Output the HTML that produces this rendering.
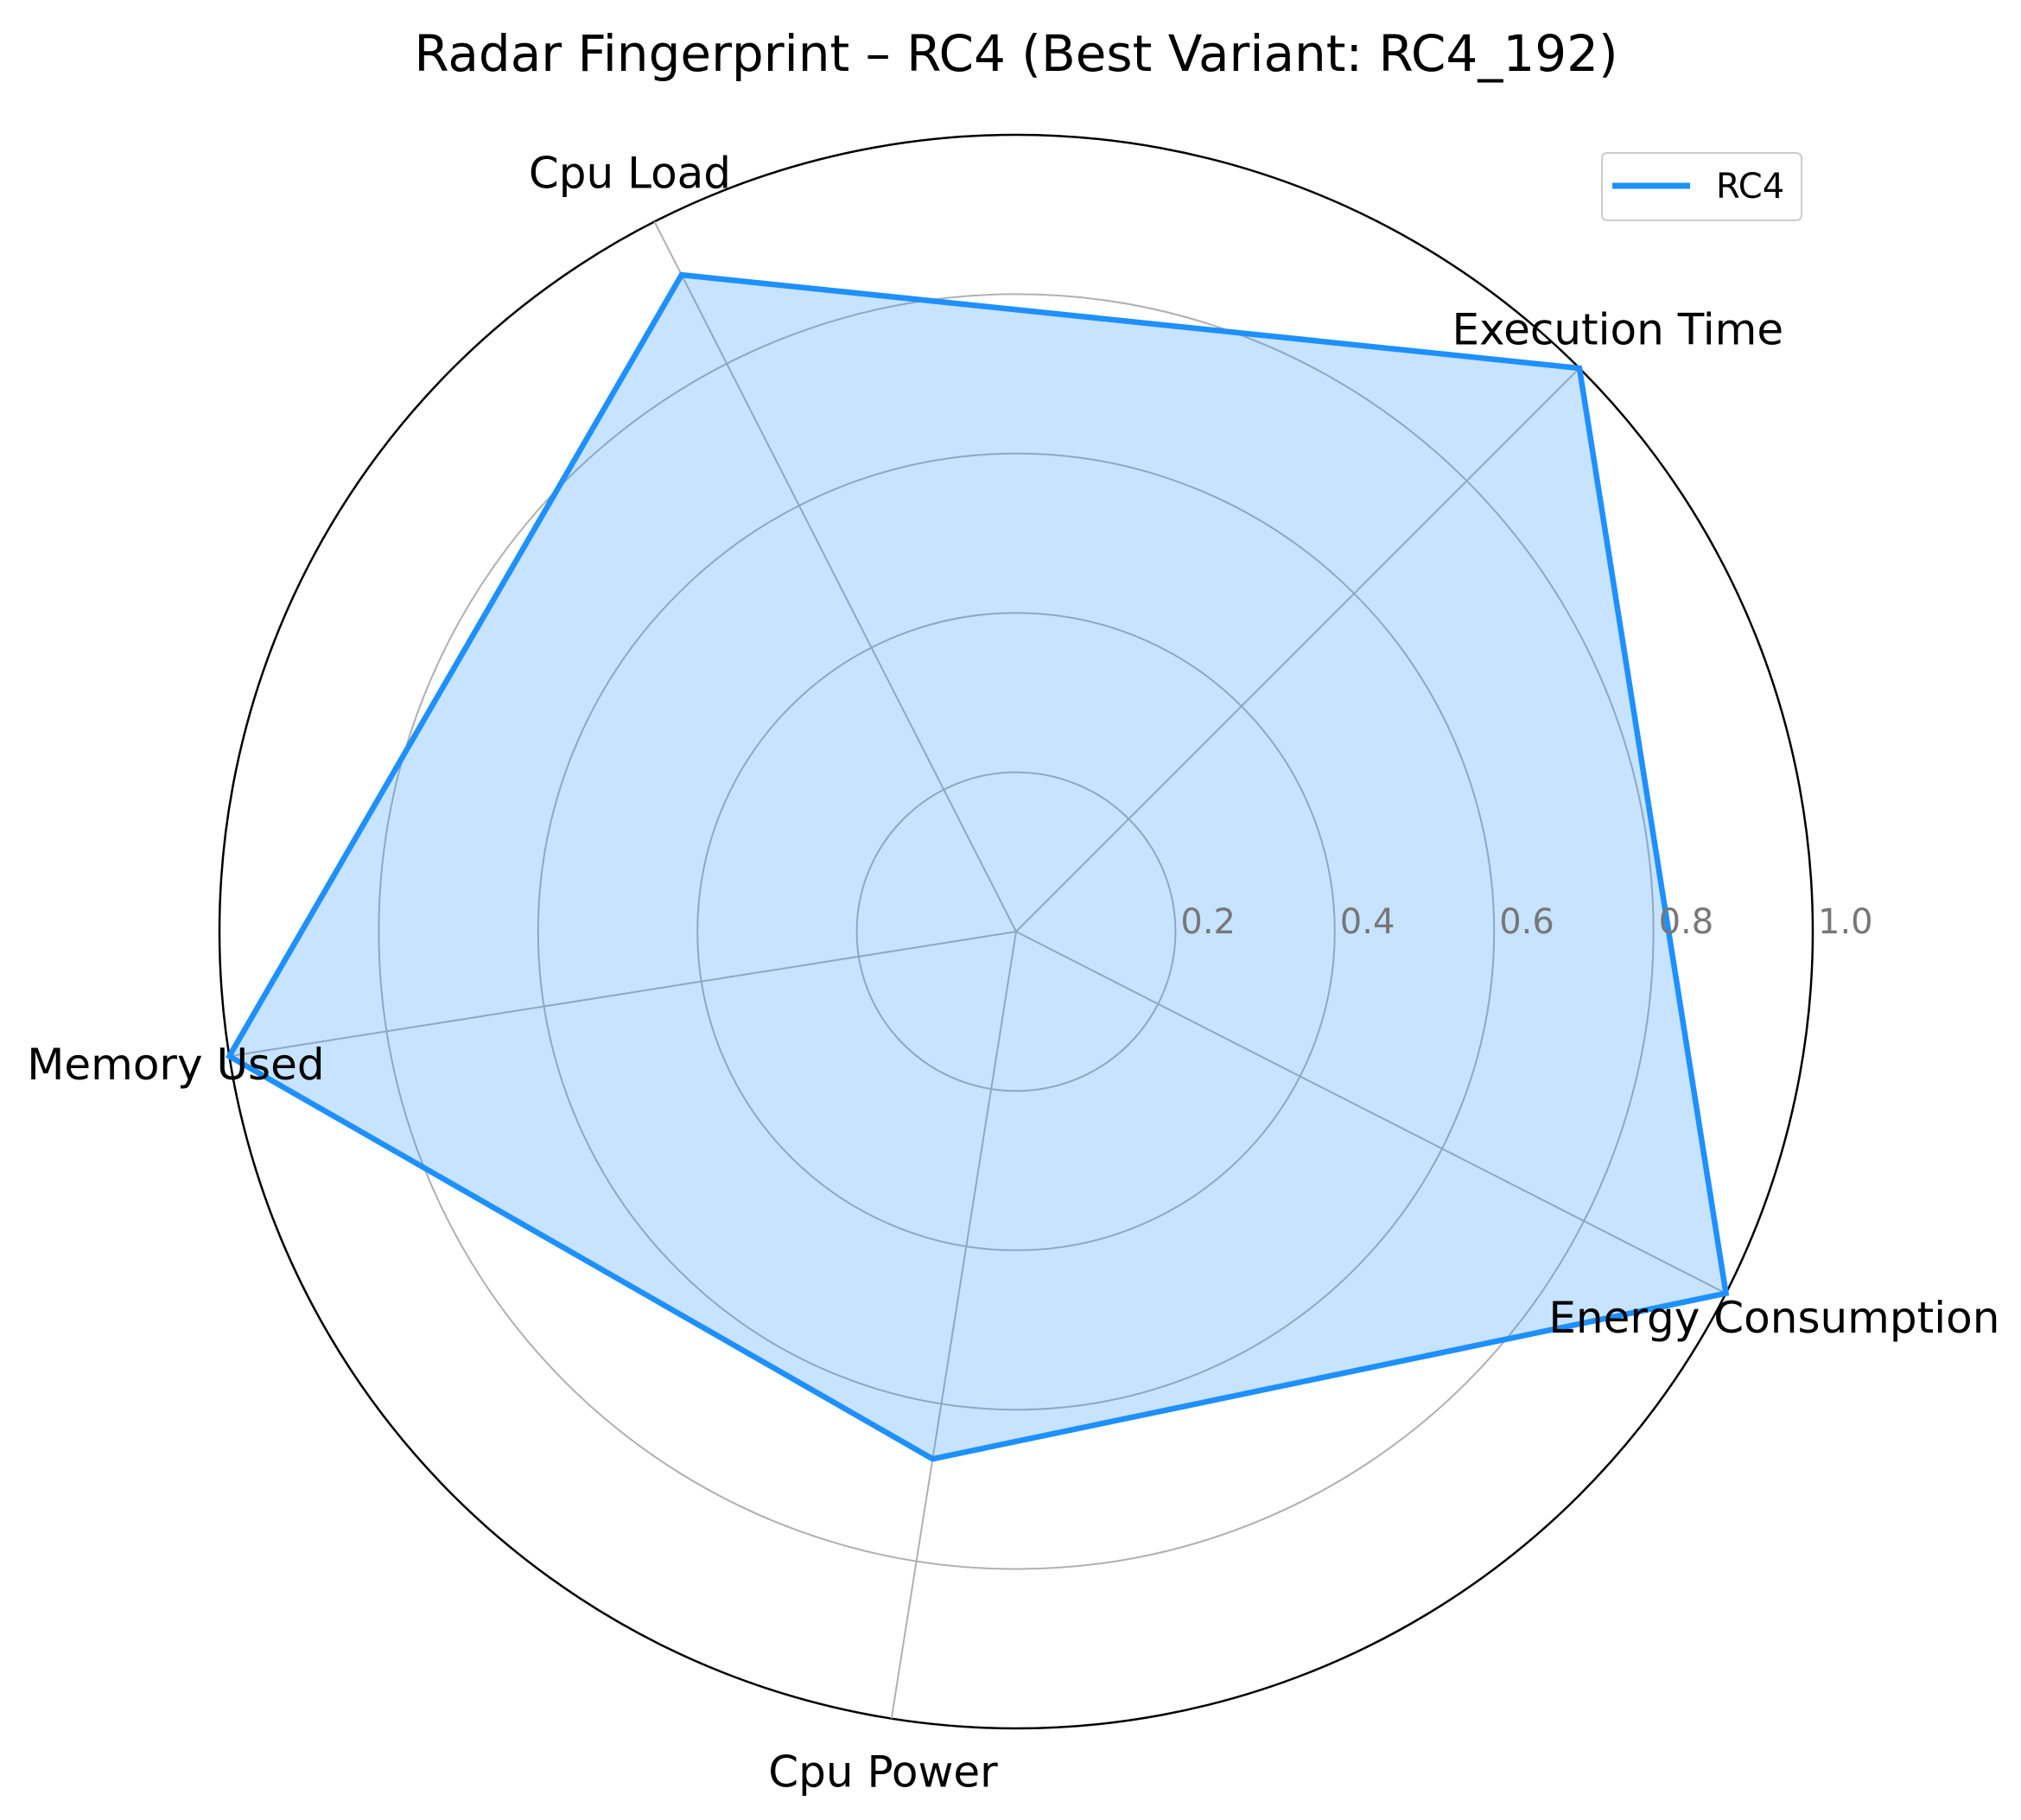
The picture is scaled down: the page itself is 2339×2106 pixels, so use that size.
<!DOCTYPE html>
<html><head><meta charset="utf-8"><style>
html,body{margin:0;padding:0;background:#fff;}
svg{display:block;font-family:"DejaVu Sans","Liberation Sans",sans-serif;}
</style></head><body>
<svg id="chart" width="2339" height="2106" viewBox="0 0 2339 2106" xmlns="http://www.w3.org/2000/svg">
<rect width="2339" height="2106" fill="#fff"/>
<text x="1176" y="82" text-anchor="middle" font-size="58" fill="#000">Radar Fingerprint – RC4 (Best Variant: RC4_192)</text>
<g id="grid"></g>
<g id="series"></g>
<g id="labels"></g>
<g>
<rect x="1854" y="177" width="231" height="78" rx="6" fill="#fff" stroke="#ccc" stroke-width="2"/>
<line x1="1866" y1="215" x2="1956" y2="215" stroke="#1e90ff" stroke-width="7"/>
<text x="1986" y="229" font-size="40" fill="#000">RC4</text>
</g>
</svg>
<script>
const categories = ["Execution Time","Cpu Load","Memory Used","Cpu Power","Energy Consumption"];
const values = [1.0, 0.925, 1.0, 0.67, 1.0];
const ringTicks = [0.2,0.4,0.6,0.8,1.0];
const tickLabels = ["0.2","0.4","0.6","0.8","1.0"];
const NS="http://www.w3.org/2000/svg";
const cx=1176, cy=1078, R=922, startDeg=45;
function ang(i){return (startDeg+i*360/categories.length)*Math.PI/180;}
function pt(i,v){const a=ang(i);return [cx+Math.cos(a)*v*R, cy-Math.sin(a)*v*R];}
function mk(tag,attrs,parent){const e=document.createElementNS(NS,tag);for(const k in attrs)e.setAttribute(k,attrs[k]);parent.appendChild(e);return e;}
const grid=document.getElementById('grid');
ringTicks.forEach((t,k)=>{
  const c=mk('circle',{cx:cx,cy:cy,r:t*R,fill:'none',stroke:t===1?'#000':'#b0b0b0','stroke-width':t===1?2.5:2},grid);
  
  
});
categories.forEach((c,i)=>{
  const p=pt(i,1);
  const l=mk('line',{x1:cx,y1:cy,x2:p[0],y2:p[1],stroke:'#b0b0b0','stroke-width':2},grid);
  
  
});
const ser=document.getElementById('series');
const pts=values.map((v,i)=>pt(i,v).join(',')).join(' ');
const poly=mk('polygon',{points:pts,fill:'#1e90ff','fill-opacity':0.25,stroke:'#1e90ff','stroke-width':6.5,'stroke-linejoin':'miter'},ser);


const lab=document.getElementById('labels');
ringTicks.forEach((t,k)=>{
  const e=mk('text',{x:cx+t*R+6,y:1080,'font-size':40,fill:'#777'},lab);
  e.textContent=tickLabels[k];
  
  
});
categories.forEach((c,i)=>{
  const a=ang(i);
  const x=cx+Math.cos(a)*R*1.068, y=cy-Math.sin(a)*R*1.068;
  const e=mk('text',{x:x,y:y+17,'font-size':50,fill:'#000','text-anchor':'middle'},lab);
  e.textContent=c;
  
  
});
</script>
</body></html>
